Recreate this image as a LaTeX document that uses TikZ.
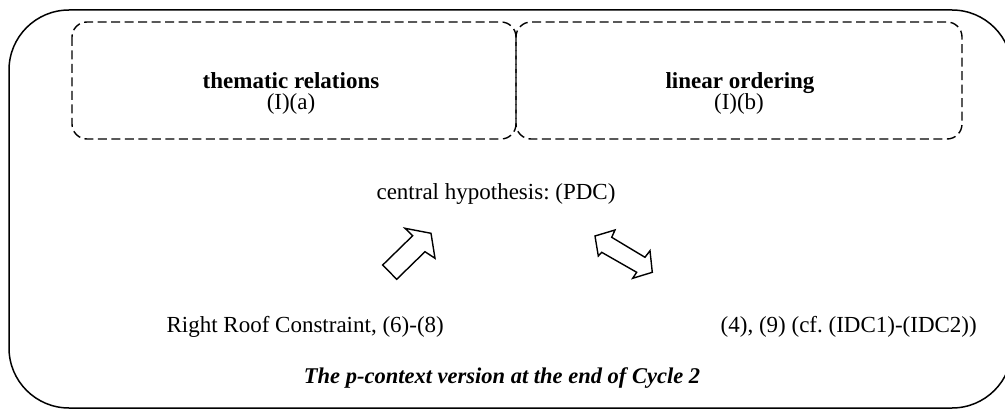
\documentclass[tikz,border=0pt]{standalone}
\usepackage{fontspec}
\setmainfont{Liberation Serif}
\frenchspacing
\begin{document}
\begin{tikzpicture}[x=1pt,y=-1pt,
  frame/.style={draw=black,line width=1.5pt,rounded corners=60pt},
  dashbox/.style={draw=black,line width=1.4pt,dash pattern=on 9pt off 4.5pt,rounded corners=15pt},
  lbl/.style={inner sep=0pt,anchor=base,font=\fontsize{23}{27}\selectfont},
  blockarrow/.style={draw=black,line width=1.4pt,fill=white,line join=miter}]
\useasboundingbox (0,0) rectangle (1005,409);
% outer rounded frame
\draw[frame] (9,10) rectangle (1012,408);
% the two dashed panels
\draw[dashbox] (72,22) rectangle (516,139);
\draw[dashbox] (516,22) rectangle (962,139);
% panel texts
\node[lbl] (thm) at (291,89) {\textbf{thematic relations}};
\node[lbl] (thmref) at (291,110) {(I)(a)};
\node[lbl] (lin) at (740,89) {\textbf{linear ordering}};
\node[lbl] (linref) at (739,110) {(I)(b)};
% central hypothesis and supporting items
\node[lbl] (pdc) at (496,200) {central hypothesis: (PDC)};
\node[lbl,anchor=base east] (rrc) at (444,332) {Right Roof Constraint, (6)-(8)};
\node[lbl,anchor=base east] (idc) at (977,332) {(4), (9) (cf. (IDC1)-(IDC2))};
\node[lbl,font=\fontsize{22.5}{27}\selectfont] (cap) at (502,383)
  {\textbf{\textit{The p-context version at the end of Cycle 2}}};
% single block arrow
\draw[blockarrow] (382.7,265) -- (412.7,235.7) -- (405,228.3) -- (431,233.3)
  -- (435,258.3) -- (425,251.7) -- (396.7,279.3) -- cycle;
% double block arrow
\draw[blockarrow] (595,236) -- (615,230) -- (611.7,237.3) -- (645,257.3)
  -- (650,250.7) -- (652.3,272.3) -- (632.7,278.3) -- (636.7,272.3)
  -- (601.7,252.3) -- (598.3,256) -- cycle;
\end{tikzpicture}
\end{document}
